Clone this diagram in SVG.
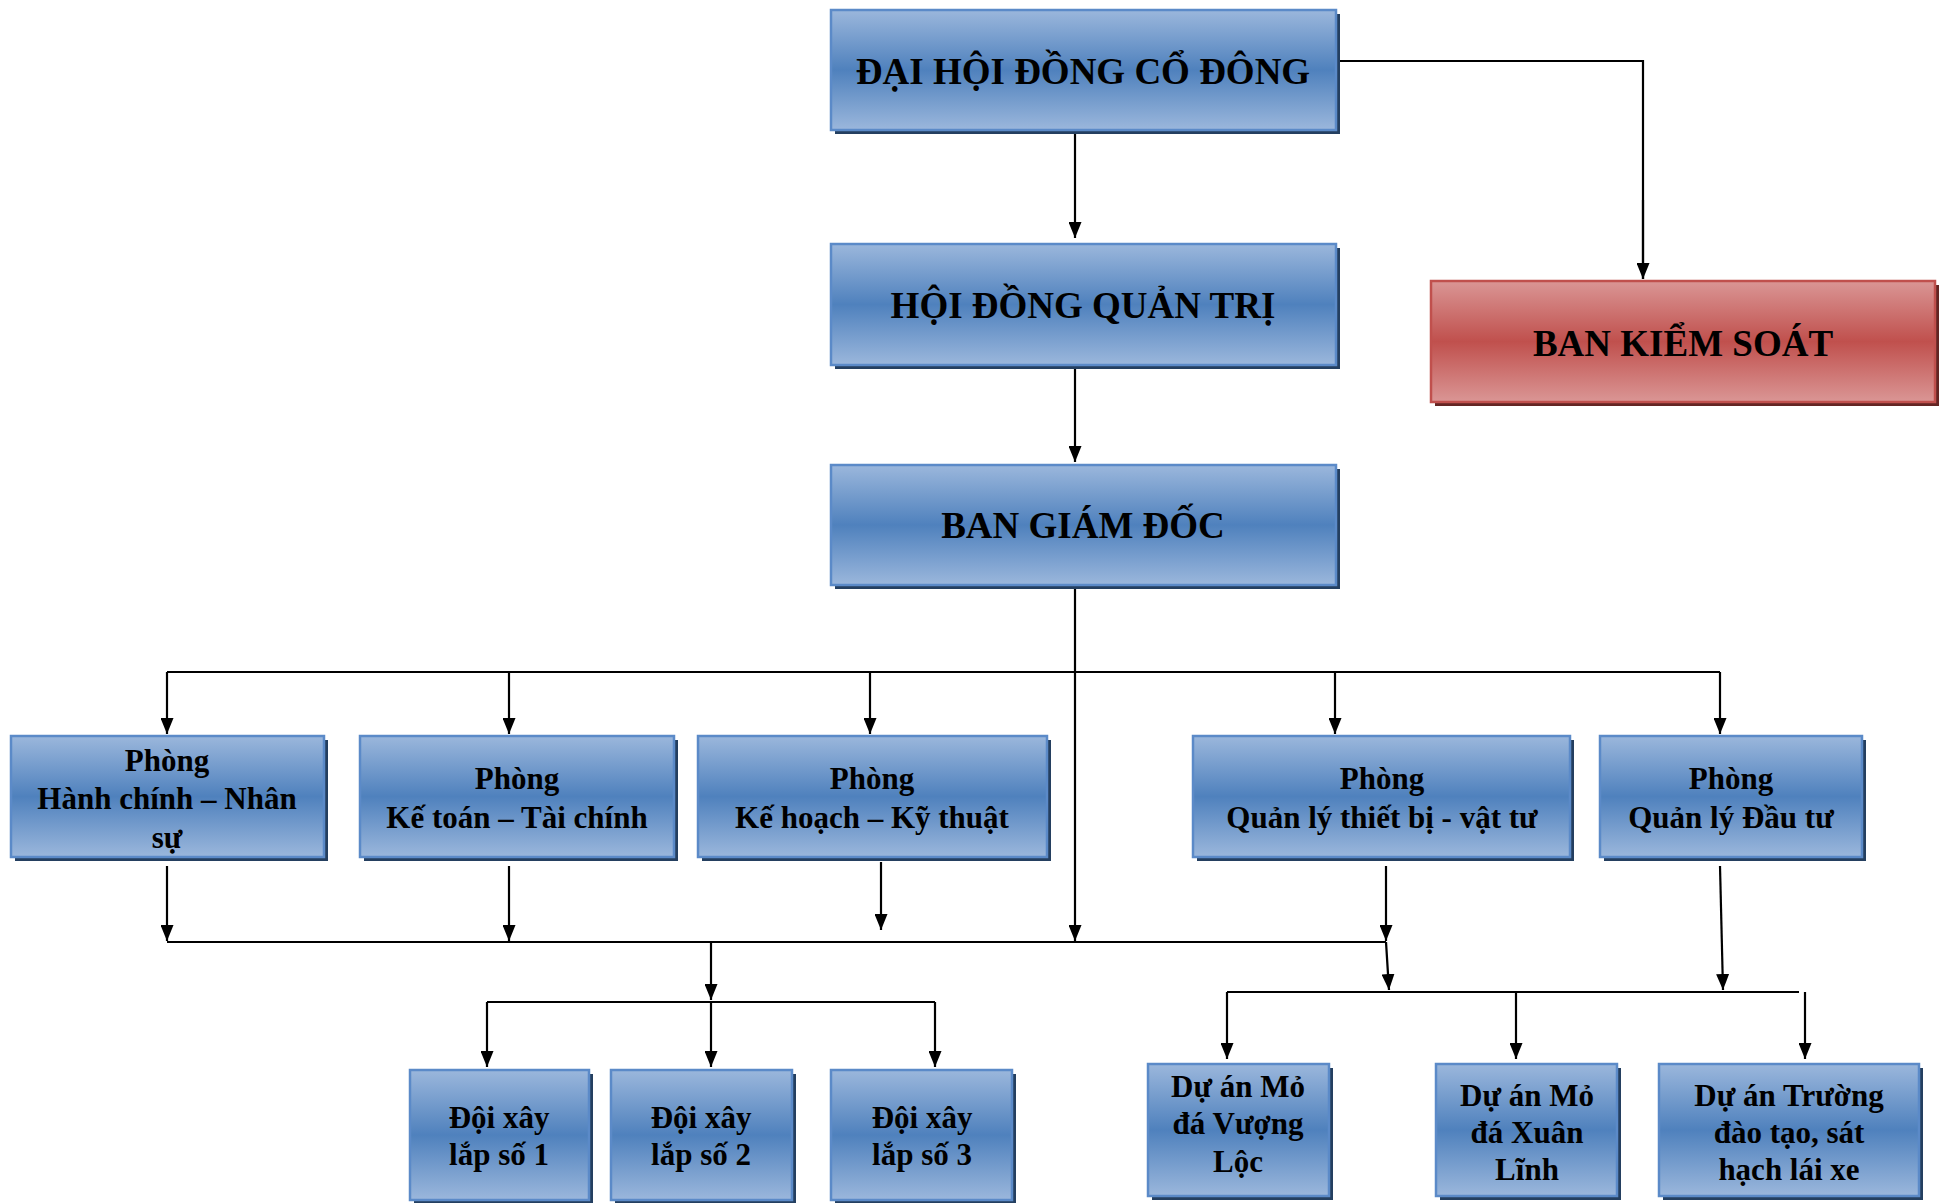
<svg xmlns="http://www.w3.org/2000/svg" width="1940" height="1203" viewBox="0 0 1940 1203">
<defs>
<linearGradient id="gb" x1="0" y1="0" x2="0" y2="1">
<stop offset="0" stop-color="#9bb7dc"/>
<stop offset="0.5" stop-color="#4f81bd"/>
<stop offset="1" stop-color="#9bb7dc"/>
</linearGradient>
<linearGradient id="gr" x1="0" y1="0" x2="0" y2="1">
<stop offset="0" stop-color="#da9695"/>
<stop offset="0.5" stop-color="#c0504d"/>
<stop offset="1" stop-color="#da9695"/>
</linearGradient>
<marker id="ar" viewBox="0 0 16 13" refX="16" refY="6.5" markerWidth="16" markerHeight="13" markerUnits="userSpaceOnUse" orient="auto">
<path d="M0,0 L16,6.5 L0,13 z" fill="#000"/>
</marker>
</defs>
<style>
.sh{fill:#243f60}
.shr{fill:#632523}
.bx{fill:url(#gb);stroke:#5b8ac8;stroke-width:2.5}
.rx{fill:url(#gr);stroke:#c0504d;stroke-width:2.5}
text{font-family:"Liberation Serif","Times New Roman",serif;font-weight:bold;fill:#000;text-anchor:middle}
.t1{font-size:37px}
.t2{font-size:31px}
.c{fill:none;stroke:#000;stroke-width:2.2}
.a{marker-end:url(#ar)}
</style>
<rect width="1940" height="1203" fill="#fff"/>
<g id="connectors">
<path class="c" d="M1336,61 H1643 V279"/>
<path class="c a" d="M1643,200 V279"/>
<path class="c a" d="M1075,130 V238"/>
<path class="c a" d="M1075,365 V462"/>
<path class="c a" d="M1075,585 V941"/>
<path class="c" d="M167,672 H1720"/>
<path class="c a" d="M167,672 V734"/>
<path class="c a" d="M509,672 V734"/>
<path class="c a" d="M870,672 V734"/>
<path class="c a" d="M1335,672 V734"/>
<path class="c a" d="M1720,672 V734"/>
<path class="c a" d="M167,866 V941"/>
<path class="c a" d="M509,866 V941"/>
<path class="c a" d="M881,862 V930"/>
<path class="c a" d="M1386,866 V941"/>
<path class="c" d="M167,942 H1386"/>
<path class="c a" d="M711,942 V1000"/>
<path class="c" d="M487,1002 H935"/>
<path class="c a" d="M487,1002 V1067"/>
<path class="c a" d="M711,1002 V1067"/>
<path class="c a" d="M935,1002 V1067"/>
<path class="c a" d="M1386,942 L1389,990"/>
<path class="c a" d="M1720,866 L1723,990"/>
<path class="c" d="M1227,992 H1799"/>
<path class="c a" d="M1227,992 V1059"/>
<path class="c a" d="M1516,992 V1059"/>
<path class="c a" d="M1805,992 V1059"/>
</g>
<g id="dhdcd">
<rect class="sh" x="835" y="14" width="505" height="120"/>
<rect class="bx" x="831" y="10" width="505" height="120"/>
<text class="t1" x="1083" y="84">ĐẠI HỘI ĐỒNG CỔ ĐÔNG</text>
</g>
<g id="hdqt">
<rect class="sh" x="835" y="248" width="505" height="121"/>
<rect class="bx" x="831" y="244" width="505" height="121"/>
<text class="t1" x="1083" y="318">HỘI ĐỒNG QUẢN TRỊ</text>
</g>
<g id="bks">
<rect class="shr" x="1435" y="285" width="504" height="121"/>
<rect class="rx" x="1431" y="281" width="504" height="121"/>
<text class="t1" x="1683" y="356">BAN KIỂM SOÁT</text>
</g>
<g id="bgd">
<rect class="sh" x="835" y="469" width="505" height="120"/>
<rect class="bx" x="831" y="465" width="505" height="120"/>
<text class="t1" x="1083" y="538">BAN GIÁM ĐỐC</text>
</g>
<g id="p1">
<rect class="sh" x="15" y="740" width="313" height="121"/>
<rect class="bx" x="11" y="736" width="313" height="121"/>
<text class="t2" x="167" y="771">Phòng</text>
<text class="t2" x="167" y="809">Hành chính – Nhân</text>
<text class="t2" x="167" y="848">sự</text>
</g>
<g id="p2">
<rect class="sh" x="364" y="740" width="314" height="121"/>
<rect class="bx" x="360" y="736" width="314" height="121"/>
<text class="t2" x="517" y="789">Phòng</text>
<text class="t2" x="517" y="828">Kế toán – Tài chính</text>
</g>
<g id="p3">
<rect class="sh" x="702" y="740" width="349" height="121"/>
<rect class="bx" x="698" y="736" width="349" height="121"/>
<text class="t2" x="872" y="789">Phòng</text>
<text class="t2" x="872" y="828">Kế hoạch – Kỹ thuật</text>
</g>
<g id="p4">
<rect class="sh" x="1197" y="740" width="377" height="121"/>
<rect class="bx" x="1193" y="736" width="377" height="121"/>
<text class="t2" x="1382" y="789">Phòng</text>
<text class="t2" x="1382" y="828">Quản lý thiết bị - vật tư</text>
</g>
<g id="p5">
<rect class="sh" x="1604" y="740" width="262" height="121"/>
<rect class="bx" x="1600" y="736" width="262" height="121"/>
<text class="t2" x="1731" y="789">Phòng</text>
<text class="t2" x="1731" y="828">Quản lý Đầu tư</text>
</g>
<g id="d1">
<rect class="sh" x="414" y="1074" width="179" height="130"/>
<rect class="bx" x="410" y="1070" width="179" height="130"/>
<text class="t2" x="499" y="1128">Đội xây</text>
<text class="t2" x="499" y="1165">lắp số 1</text>
</g>
<g id="d2">
<rect class="sh" x="615" y="1074" width="181" height="130"/>
<rect class="bx" x="611" y="1070" width="181" height="130"/>
<text class="t2" x="701" y="1128">Đội xây</text>
<text class="t2" x="701" y="1165">lắp số 2</text>
</g>
<g id="d3">
<rect class="sh" x="835" y="1074" width="181" height="130"/>
<rect class="bx" x="831" y="1070" width="181" height="130"/>
<text class="t2" x="922" y="1128">Đội xây</text>
<text class="t2" x="922" y="1165">lắp số 3</text>
</g>
<g id="da1">
<rect class="sh" x="1152" y="1068" width="181" height="132"/>
<rect class="bx" x="1148" y="1064" width="181" height="132"/>
<text class="t2" x="1238" y="1097">Dự án Mỏ</text>
<text class="t2" x="1238" y="1134">đá Vượng</text>
<text class="t2" x="1238" y="1172">Lộc</text>
</g>
<g id="da2">
<rect class="sh" x="1440" y="1068" width="181" height="132"/>
<rect class="bx" x="1436" y="1064" width="181" height="132"/>
<text class="t2" x="1527" y="1106">Dự án Mỏ</text>
<text class="t2" x="1527" y="1143">đá Xuân</text>
<text class="t2" x="1527" y="1180">Lĩnh</text>
</g>
<g id="da3">
<rect class="sh" x="1663" y="1068" width="260" height="132"/>
<rect class="bx" x="1659" y="1064" width="260" height="132"/>
<text class="t2" x="1789" y="1106">Dự án Trường</text>
<text class="t2" x="1789" y="1143">đào tạo, sát</text>
<text class="t2" x="1789" y="1180">hạch lái xe</text>
</g>
</svg>
